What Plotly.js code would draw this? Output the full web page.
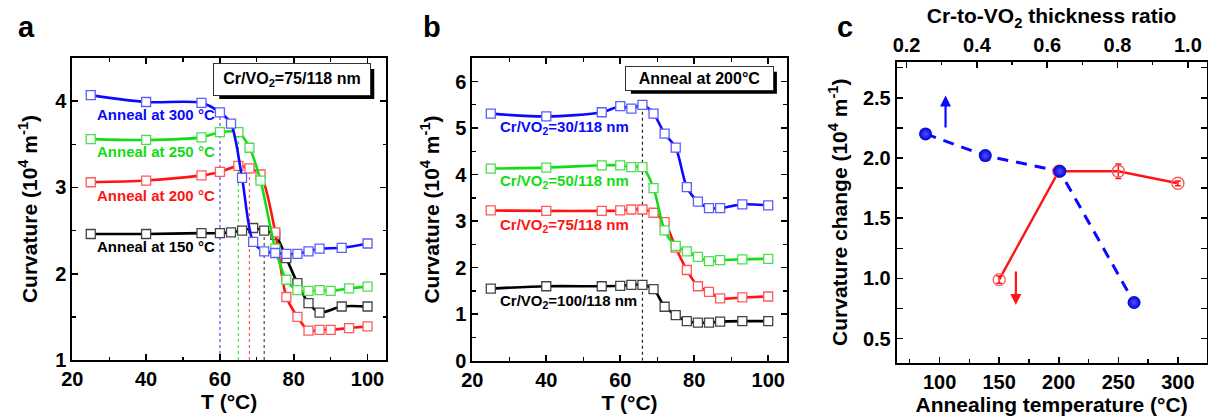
<!DOCTYPE html>
<html><head><meta charset="utf-8">
<script src="https://cdn.plot.ly/plotly-3.0.1.min.js"></script>
<style>html,body{margin:0;padding:0;background:#fff}#plot{width:1208px;height:416px}</style>
</head><body><div id="plot"></div>
<script>
// ---------- Panel a data ----------
const aT_bk = [25,40,55,60,63,66,69,72,75,78,81,84,87,93,100];   // blue & black temperatures
const aT_gr = [25,40,55,60,65,68,71,75,78,81,84,87,90,95,100];   // green & red temperatures
const a300 = [4.07,3.99,3.98,3.87,3.74,3.11,2.37,2.26,2.24,2.23,2.23,2.26,2.29,2.30,2.35];
const a250 = [3.56,3.55,3.58,3.64,3.64,3.46,3.08,2.29,1.93,1.81,1.80,1.81,1.80,1.83,1.85];
const a200 = [3.06,3.08,3.14,3.18,3.25,3.22,3.15,2.48,1.73,1.50,1.34,1.35,1.35,1.37,1.39];
const a150 = [2.46,2.46,2.47,2.47,2.48,2.50,2.53,2.50,2.45,2.18,1.89,1.66,1.55,1.62,1.62];
const aLabels = ['Anneal at 300 °C','Anneal at 250 °C','Anneal at 200 °C','Anneal at 150 °C'];
const aTransT = [60,65,68,72];           // transition temperatures (dotted lines)
const aTransC = [3.87,3.64,3.22,2.50];

// ---------- Panel b data ----------
const bT = [25,40,55,60,63,66,69,72,75,78,81,84,87,93,100];
const b30  = [5.31,5.25,5.34,5.47,5.42,5.50,5.31,4.88,4.58,3.73,3.42,3.28,3.28,3.36,3.34];
const b50  = [4.13,4.15,4.20,4.20,4.16,4.16,3.71,2.80,2.47,2.35,2.23,2.14,2.16,2.18,2.19];
const b75  = [3.23,3.22,3.22,3.23,3.25,3.25,3.18,2.98,2.43,1.95,1.60,1.48,1.34,1.36,1.38];
const b100 = [1.55,1.60,1.60,1.61,1.63,1.63,1.54,1.16,0.98,0.85,0.82,0.82,0.84,0.85,0.85];
const bLabels = ['Cr/VO<sub>2</sub>=30/118 nm','Cr/VO<sub>2</sub>=50/118 nm','Cr/VO<sub>2</sub>=75/118 nm','Cr/VO<sub>2</sub>=100/118 nm'];
const bTransT = [66, 66];
const bTransC = [0, 5.55];

// ---------- Panel c data ----------
const cRatio = [0.254,0.424,0.636,0.847];
const cRatioChange = [2.20,2.02,1.89,0.80];
const cAnneal = [150,200,250,300];
const cAnnealChange = [0.99,1.89,1.89,1.79];
const cAnnealErr = [0.03,0.0,0.06,0.02];

const W=1208, H=416;
const dx=(a,b)=>[a/W,b/W];
const dy=(t,b)=>[1-b/H,1-t/H];

const BLUE='#0a0aff', GREEN='#14dc14', RED='#ff1414', BLACK='#000000';
const MBLUE='#5c5cff', MGREEN='#4be04b', MRED='#ff5a5a', MBLACK='#444444';
const FONT='Liberation Sans, Arial, sans-serif';

function curve(x,y,col,mcol,xa,ya){
  return {x:x,y:y,xaxis:xa,yaxis:ya,type:'scatter',mode:'lines+markers',
    line:{color:col,width:2.6,shape:'spline',smoothing:0.8},
    marker:{symbol:'square',size:9,color:'white',line:{color:mcol,width:1.3}},
    showlegend:false,hoverinfo:'skip'};
}
const traces=[];
// dotted transition lines panel a
const dotCols=[MBLUE,MGREEN,MRED,'#555555'];
aTransT.forEach((t,i)=>{
  traces.push({x:[t,t],y:[1,aTransC[i]],xaxis:'x',yaxis:'y',mode:'lines',
    line:{color:dotCols[i],width:1.3,dash:'dot'},showlegend:false,hoverinfo:'skip'});
});
traces.push(curve(aT_bk,a150,BLACK,MBLACK,'x','y'));
traces.push(curve(aT_gr,a200,RED,MRED,'x','y'));
traces.push(curve(aT_gr,a250,GREEN,MGREEN,'x','y'));
traces.push(curve(aT_bk,a300,BLUE,MBLUE,'x','y'));

// panel b
traces.push({x:bTransT,y:bTransC,xaxis:'x2',yaxis:'y2',mode:'lines',
  line:{color:'#222',width:1.2,dash:'dot'},showlegend:false,hoverinfo:'skip'});
traces.push(curve(bT,b100,BLACK,MBLACK,'x2','y2'));
traces.push(curve(bT,b75,RED,MRED,'x2','y2'));
traces.push(curve(bT,b50,GREEN,MGREEN,'x2','y2'));
traces.push(curve(bT,b30,BLUE,MBLUE,'x2','y2'));

// panel c
traces.push({x:cAnneal,y:cAnnealChange,xaxis:'x3',yaxis:'y3',mode:'lines+markers',
  line:{color:RED,width:2.4},
  marker:{symbol:'circle-open-dot',size:12,color:MRED,line:{width:1.4}},
  error_y:{type:'data',array:cAnnealErr,visible:true,color:RED,thickness:1.5,width:3},
  showlegend:false,hoverinfo:'skip'});
traces.push({x:cRatio,y:cRatioChange,xaxis:'x4',yaxis:'y3',mode:'lines+markers',
  line:{color:BLUE,width:3,dash:'11px,8px'},
  marker:{symbol:'circle',size:13,color:'#0000d8',gradient:{type:'radial',color:'#5050ff'}},
  showlegend:false,hoverinfo:'skip'});

function ax(o){
  return Object.assign({showline:true,linecolor:'black',linewidth:2,mirror:'allticks',
    ticks:'inside',ticklen:6,tickwidth:1.6,tickcolor:'black',showgrid:false,zeroline:false,
    tickfont:{family:FONT,size:20,color:'black',weight:'bold'},automargin:false},o);
}
const titleFont={family:FONT,size:21,color:'black',weight:'bold'};
const minor=(d)=>({dtick:d,ticks:'inside',ticklen:3.5,tickwidth:1.3,tickcolor:'black'});

const ann=[];
function txt(x,y,t,col,xr,yr,sz){
  ann.push({x:x,y:y,xref:xr,yref:yr,text:t,showarrow:false,xanchor:'left',yanchor:'middle',
    font:{family:FONT,size:sz||15,color:col,weight:'bold'}});
}
const aCols=[BLUE,GREEN,RED,BLACK];
const aLabY=[3.85,3.42,2.91,2.31];
aLabels.forEach((l,i)=>txt(26.2,aLabY[i],l,aCols[i],'x','y',15));
const bLabY=[5.02,3.86,2.90,1.27];
bLabels.forEach((l,i)=>txt(26.9,bLabY[i],l,aCols[i],'x2','y2',15));

const shapes=[];
function box(x,y,t,xr,yr,w,h){
  // drop shadow (pixel-sized rectangle anchored at the label position)
  shapes.push({type:'rect',xref:xr,yref:yr,xsizemode:'pixel',ysizemode:'pixel',
    xanchor:x,yanchor:y,x0:-w/2+4,x1:w/2+5,y0:-h/2-5,y1:h/2-4,
    fillcolor:'black',line:{width:0},layer:'above'});
  ann.push({x:x,y:y,xref:xr,yref:yr,text:t,showarrow:false,xanchor:'center',yanchor:'middle',
    width:w,height:h,bgcolor:'white',bordercolor:'#333',borderwidth:1,
    font:{family:FONT,size:16,color:'black',weight:'bold'}});
}
box(79.6,4.25,'Cr/VO<sub>2</sub>=75/118 nm','x','y',154,29);
box(81.4,6.07,'Anneal at 200°C','x2','y2',145,21);

// arrows panel c
ann.push({x:105,y:2.52,ax:105,ay:2.24,xref:'x3',yref:'y3',axref:'x3',ayref:'y3',showarrow:true,
  arrowhead:2,arrowsize:1,arrowwidth:2.2,arrowcolor:BLUE,text:''});
ann.push({x:164,y:0.78,ax:164,ay:1.07,xref:'x3',yref:'y3',axref:'x3',ayref:'y3',showarrow:true,
  arrowhead:2,arrowsize:1,arrowwidth:2.2,arrowcolor:RED,text:''});

// panel letters
[['a',16],['b',421],['c',835]].forEach(p=>{
  ann.push({x:p[1]/W,y:1-27/H,xref:'paper',yref:'paper',text:p[0],showarrow:false,
    xanchor:'left',yanchor:'middle',font:{family:FONT,size:29,color:'black',weight:'bold'}});
});

const layout={
  width:W,height:H,margin:{l:0,r:0,t:0,b:0},paper_bgcolor:'white',plot_bgcolor:'white',
  font:{family:FONT,color:'black'},showlegend:false,
  xaxis:ax({domain:dx(72.3,386),range:[20,105],anchor:'y',tick0:20,dtick:20,minor:minor(10),
    title:{text:'T (°C)',font:titleFont,standoff:4}}),
  yaxis:ax({domain:dy(58,360),range:[1,4.5],anchor:'x',tick0:1,dtick:1,minor:minor(0.5),
    title:{text:'Curvature (10<sup>4</sup> m<sup>-1</sup>)',font:titleFont,standoff:12}}),
  xaxis2:ax({domain:dx(472.3,786.7),range:[20,105],anchor:'y2',tick0:20,dtick:20,minor:minor(10),
    title:{text:'T (°C)',font:titleFont,standoff:4}}),
  yaxis2:ax({domain:dy(58.3,360.7),range:[0,6.5],anchor:'x2',tick0:0,dtick:1,minor:minor(0.5),
    title:{text:'Curvature (10<sup>4</sup> m<sup>-1</sup>)',font:titleFont,standoff:10}}),
  xaxis3:ax({domain:dx(896.7,1206.5),range:[64,324],anchor:'y3',tick0:0,dtick:50,minor:minor(25),
    mirror:false,title:{text:'Annealing temperature (°C)',font:titleFont,standoff:4}}),
  xaxis4:ax({overlaying:'x3',side:'top',anchor:'y3',range:[0.172,1.053],tick0:0.2,dtick:0.2,
    tickformat:'.1f',minor:minor(0.1),mirror:false,
    title:{text:'Cr-to-VO<sub>2</sub> thickness ratio',font:titleFont,standoff:4}}),
  yaxis3:ax({domain:dy(61.7,362.7),range:[0.3,2.8],anchor:'x3',tick0:0.5,dtick:0.5,tickformat:'.1f',
    minor:minor(0.25),title:{text:'Curvature change (10<sup>4</sup> m<sup>-1</sup>)',font:titleFont,standoff:10}}),
  annotations:ann,
  shapes:shapes
};
Plotly.newPlot('plot',traces,layout,{staticPlot:true,displayModeBar:false});
</script></body></html>
